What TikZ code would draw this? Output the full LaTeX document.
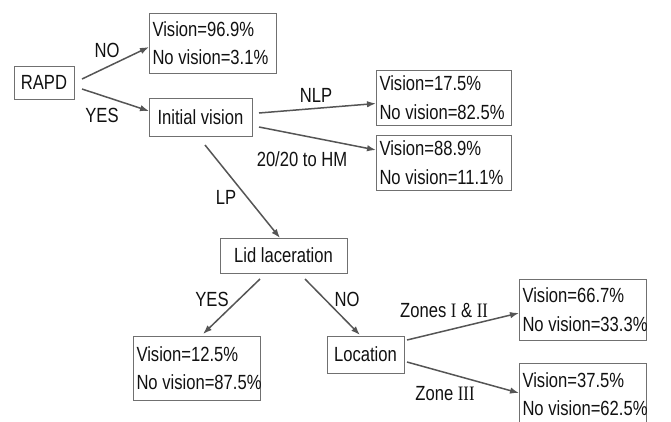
\documentclass[tikz,border=0pt]{standalone}
\usepackage{fontspec}
\setmainfont{Liberation Sans}[FakeStretch=0.81]
\newfontfamily\romfont{Liberation Serif}[FakeStretch=0.81]
\usetikzlibrary{arrows.meta,calc}
\definecolor{linegray}{HTML}{555555}
\definecolor{boxgray}{HTML}{707070}
\definecolor{txt}{HTML}{111111}
\newcommand{\twoline}[2]{\spaceskip=0pt\relax\xspaceskip=0pt\relax\mbox{#1}\\\mbox{#2}}
\begin{document}
\begin{tikzpicture}[x=1pt,y=-1pt,
  every node/.style={font=\fontsize{20.5}{28.5}\selectfont,text=txt},
  box/.style={draw=boxgray,line width=1pt,inner xsep=3.5pt,inner ysep=0pt,outer sep=0pt,anchor=center},
  resbox/.style={box,align=left},
  lbl/.style={inner sep=0pt},
  arr/.style={draw=linegray,line width=1.5pt,-{Latex[length=9pt,width=6.5pt]}}
]
\useasboundingbox (0,0) rectangle (671,421);
\clip (0,0) rectangle (671,421);
% decision nodes
\node[box,minimum width=60pt,minimum height=33pt] (rapd) at (44,82.5) {RAPD};
\node[box,minimum width=103pt,minimum height=38pt] (init) at (200.5,117) {Initial vision};
\node[box,minimum width=127pt,minimum height=35pt] (lid) at (283.5,255.5) {Lid laceration};
\node[box,minimum width=77pt,minimum height=37pt] (loc) at (365.5,354.5) {Location};
% result boxes
\node[resbox,text width=120pt,minimum height=60pt] (r1) at (212.5,43) {\twoline{Vision=96.9\%}{No vision=3.1\%}};
\node[resbox,text width=128pt,minimum height=55pt] (r2) at (443.5,97.5) {\twoline{Vision=17.5\%}{No vision=82.5\%}};
\node[resbox,text width=128pt,minimum height=55pt] (r3) at (443.5,162.5) {\twoline{Vision=88.9\%}{No vision=11.1\%}};
\node[resbox,text width=120pt,minimum height=64pt] (r4) at (196.5,368) {\twoline{Vision=12.5\%}{No vision=87.5\%}};
\node[resbox,text width=120pt,minimum height=61pt] (r5) at (582.5,309.5) {\twoline{Vision=66.7\%}{No vision=33.3\%}};
\node[resbox,text width=120pt,minimum height=62pt,anchor=north] (r6) at (582.5,363) {\twoline{Vision=37.5\%}{No vision=62.5\%}};
% connectors
\draw[arr] ($(rapd.east)+(8,-3.5)$) -- ($(r1.west)+(0,4)$);
\draw[arr] ($(rapd.east)+(8,6.5)$) -- ($(init.west)+(0,-6)$);
\draw[arr] ($(init.east)+(7,-4)$) -- ($(r2.west)+(0,6)$);
\draw[arr] ($(init.east)+(7,10)$) -- ($(r3.west)+(0,-12.5)$);
\draw[arr] ($(init.south)+(4.5,9)$) -- ($(lid.north)+(-3.5,0)$);
\draw[arr] ($(lid.south)+(-23.5,6)$) -- ($(r4.north)+(6.5,-2)$);
\draw[arr] ($(lid.south)+(21.5,6)$) -- ($(loc.north)+(-5.5,-1)$);
\draw[arr] ($(loc.east)+(3,-14.5)$) -- ($(r5.west)+(0,3.5)$);
\draw[arr] ($(loc.east)+(3,7.5)$) -- ($(r6.west)+(0,-1)$);
% labels
\node[lbl] (lno) at (107,50) {NO};
\node[lbl] (lyes) at (102,115) {YES};
\node[lbl] (lnlp) at (316,95) {NLP};
\node[lbl] (lhm) at (302,159) {20/20 to HM};
\node[lbl] (llp) at (226,197) {LP};
\node[lbl] (lyes2) at (212,299) {YES};
\node[lbl] (lno2) at (347,299) {NO};
\node[lbl] (lz12) at (444,310) {Zones {\romfont I} \& {\romfont II}};
\node[lbl] (lz3) at (445,394) {Zone {\romfont III}};
\end{tikzpicture}
\end{document}
